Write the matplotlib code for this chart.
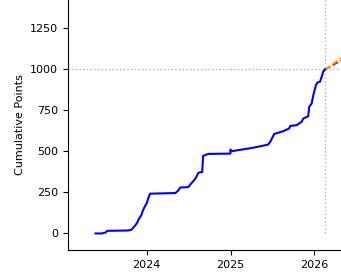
import matplotlib
matplotlib.use("Agg")
import matplotlib.pyplot as plt
import matplotlib.dates as mdates
import pandas as pd

dates = ["2023-05-22", "2023-06-17", "2023-07-05", "2023-07-12", "2023-10-10", "2023-10-25",
         "2023-11-03", "2023-11-12", "2023-11-20", "2023-11-28", "2023-12-08", "2023-12-15",
         "2023-12-24", "2024-01-01", "2024-01-08", "2024-01-15", "2024-05-05", "2024-05-15",
         "2024-05-27", "2024-07-01", "2024-07-10", "2024-07-18", "2024-08-01", "2024-08-10",
         "2024-08-14", "2024-08-30", "2024-09-03", "2024-09-25", "2024-12-31", "2025-01-01",
         "2025-01-02", "2025-03-26", "2025-05-09", "2025-06-14", "2025-06-24", "2025-07-10",
         "2025-08-18", "2025-09-13", "2025-09-18", "2025-10-16", "2025-11-07", "2025-11-14",
         "2025-12-06", "2025-12-10", "2025-12-21", "2025-12-28", "2026-01-08", "2026-01-14",
         "2026-01-26", "2026-02-03", "2026-02-09", "2026-02-17"]
points = [0, 0, 5, 16, 18, 22,
          35, 50, 65, 90, 110, 140,
          165, 185, 215, 242, 246, 258,
          280, 282, 300, 312, 335, 360,
          370, 374, 472, 484, 486, 510,
          500, 518, 530, 541, 560, 605,
          622, 638, 654, 659, 679, 699,
          713, 770, 791, 841, 900, 918,
          923, 955, 984, 998]

today = "2026-02-17"
target = 1000
proj_dates = ["2026-02-17", "2026-05-15"]
proj_low = [998, 1065]
proj_high = [998, 1085]

x = pd.to_datetime(dates)
xp = pd.to_datetime(proj_dates)
t = pd.Timestamp(today)

fig = plt.figure(figsize=(3.41, 2.77), dpi=100)
ax = fig.add_axes([0.1994, 0.0975, 0.8006, 0.9025])

ax.plot(x, points, color="blue", lw=1.5, zorder=3)
ax.plot(xp, proj_low, color="red", lw=1.2, ls="--", zorder=2)
ax.plot(xp, proj_high, color="orange", lw=1.2, ls="--", zorder=2)
ax.axhline(target, color="gray", ls=":", lw=1, alpha=0.6, zorder=1)
ax.vlines(t, 0, 2000, color="gray", ls=":", lw=1, alpha=0.6, zorder=1)

ax.set_xlim(pd.Timestamp("2023-01-22"), pd.Timestamp("2026-04-28"))
ax.set_ylim(-100.6, 1420.7)
ax.set_yticks([0, 250, 500, 750, 1000, 1250])
ax.xaxis.set_major_locator(mdates.YearLocator())
ax.xaxis.set_major_formatter(mdates.DateFormatter("%Y"))
ax.tick_params(labelsize=8)
ax.set_ylabel("Cumulative Points", fontsize=8)
ax.spines["top"].set_visible(False)
ax.spines["right"].set_visible(False)

fig.savefig("out.png", dpi=100)
